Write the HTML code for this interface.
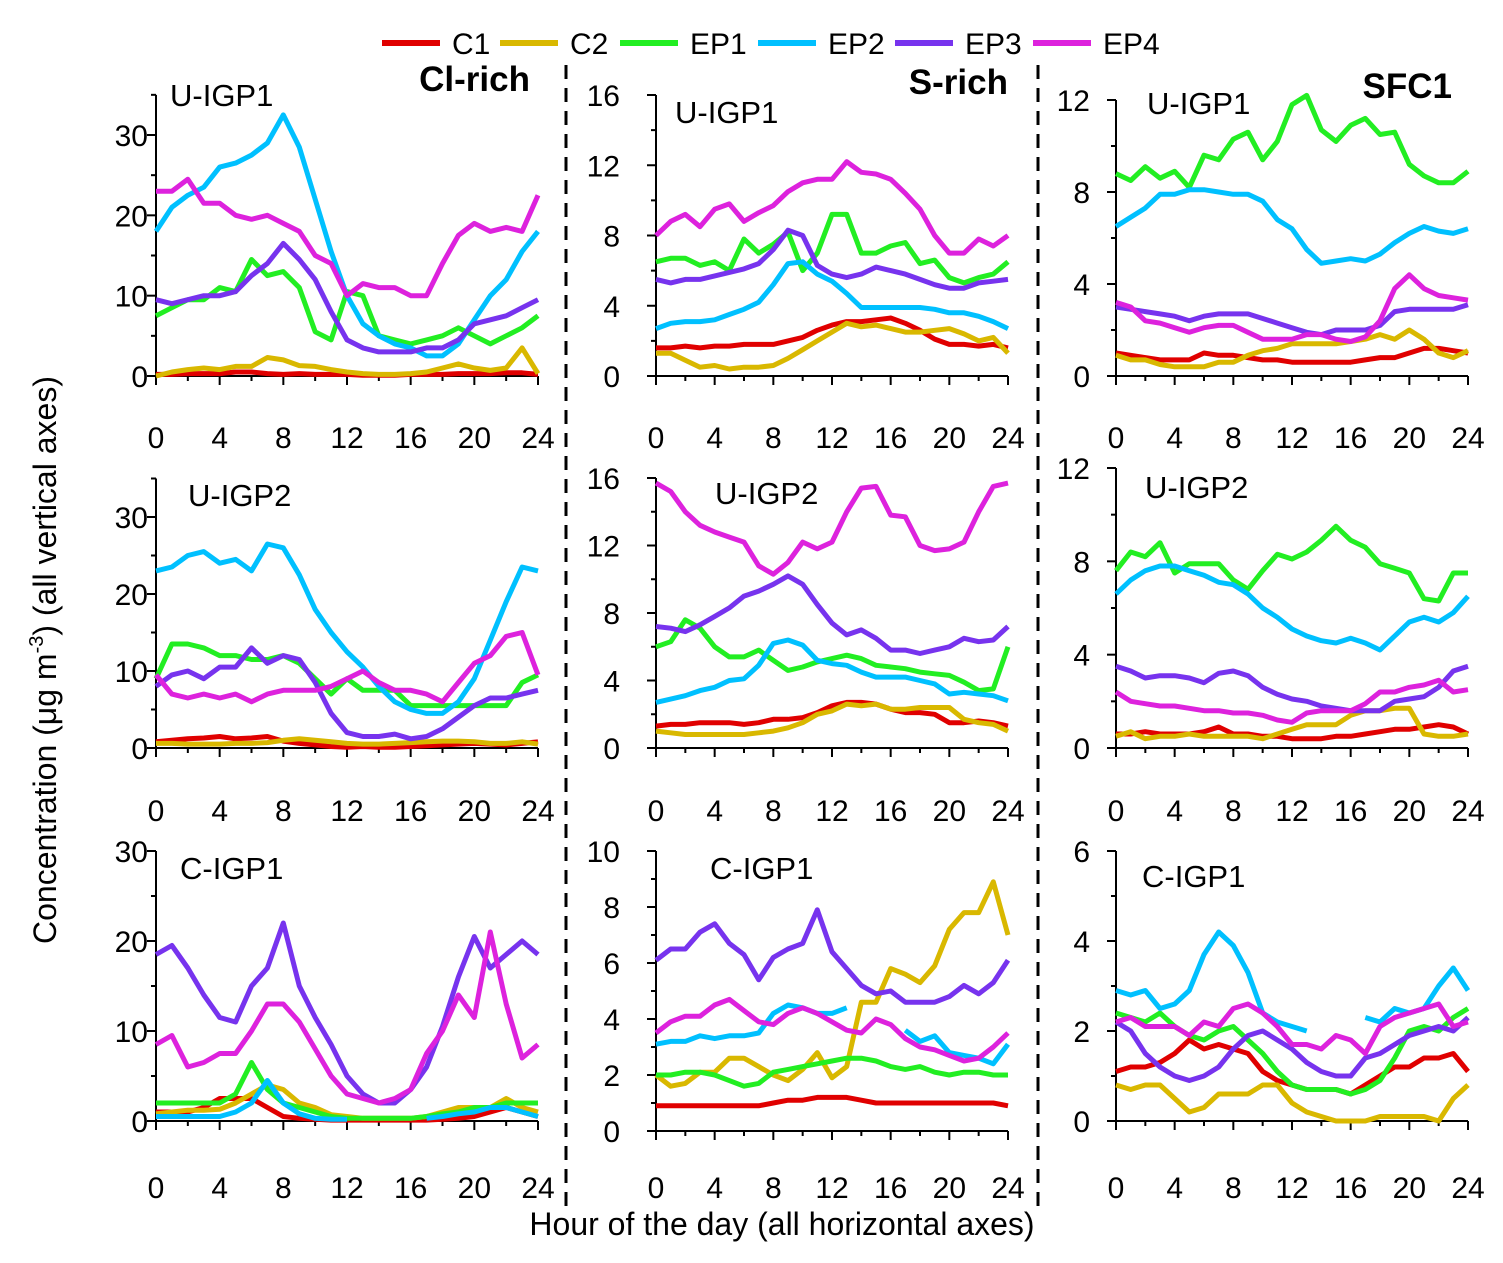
<!DOCTYPE html>
<html><head><meta charset="utf-8"><style>
body{margin:0;background:#fff;}
svg text{font-family:"Liberation Sans",sans-serif;fill:#000;}
</style></head><body>
<svg id="chart" width="1503" height="1258" viewBox="0 0 1503 1258" xmlns="http://www.w3.org/2000/svg">
<g id="legend"></g>
<g id="panels"></g>
<line x1="566" y1="65" x2="566" y2="1210" stroke="#000" stroke-width="3" stroke-dasharray="14,9"/>
<line x1="1038" y1="65" x2="1038" y2="1210" stroke="#000" stroke-width="3" stroke-dasharray="14,9"/>
<text transform="translate(56,660) rotate(-90)" text-anchor="middle" font-size="32">Concentration (μg m<tspan dy="-13" font-size="20">-3</tspan><tspan dy="13">) (all vertical axes)</tspan></text>
<text x="782" y="1235" text-anchor="middle" font-size="32">Hour of the day (all horizontal axes)</text>
<text x="530" y="91" text-anchor="end" font-size="35" font-weight="bold">Cl-rich</text>
<text x="1008" y="94" text-anchor="end" font-size="35" font-weight="bold">S-rich</text>
<text x="1452" y="98" text-anchor="end" font-size="35" font-weight="bold">SFC1</text>
</svg>
<script>
const seriesNames = ["C1","C2","EP1","EP2","EP3","EP4"];
const seriesColors = ["#e00000","#d9b800","#22ee22","#00c0ff","#7733ee","#dd22dd"];
const hours = [0,1,2,3,4,5,6,7,8,9,10,11,12,13,14,15,16,17,18,19,20,21,22,23,24];
const xTickLabels = [0,4,8,12,16,20,24];
const N = null;
const A_C1=[0.2,0.2,0.3,0.3,0.3,0.5,0.5,0.3,0.2,0.3,0.2,0.2,0.2,0.1,0.1,0.1,0.2,0.2,0.2,0.3,0.3,0.3,0.4,0.4,0.2];
const A_C2=[0,0.5,0.8,1,0.8,1.2,1.2,2.3,2,1.3,1.2,0.8,0.5,0.3,0.2,0.2,0.3,0.5,1,1.5,1,0.7,1,3.5,0.3];
const A_EP1=[7.5,8.5,9.5,9.5,11,10.5,14.5,12.5,13,11,5.5,4.5,10.5,10,5,4.5,4,4.5,5,6,5,4,5,6,7.5];
const A_EP2=[18,21,22.5,23.5,26,26.5,27.5,29,32.5,28.5,22,15.5,10,6.5,5,4,3.5,2.5,2.5,4,7,10,12,15.5,18];
const A_EP3=[9.5,9,9.5,10,10,10.5,12.5,14,16.5,14.5,12,8,4.5,3.5,3,3,3,3.5,3.5,4.5,6.5,7,7.5,8.5,9.5];
const A_EP4=[23,23,24.5,21.5,21.5,20,19.5,20,19,18,15,14,10,11.5,11,11,10,10,14,17.5,19,18,18.5,18,22.5];
const B_C1=[1.6,1.6,1.7,1.6,1.7,1.7,1.8,1.8,1.8,2,2.2,2.6,2.9,3.1,3.1,3.2,3.3,3,2.6,2.1,1.8,1.8,1.7,1.8,1.6];
const B_C2=[1.3,1.3,0.9,0.5,0.6,0.4,0.5,0.5,0.6,1,1.5,2,2.5,3,2.8,2.9,2.7,2.5,2.5,2.6,2.7,2.4,2,2.2,1.3];
const B_EP1=[6.5,6.7,6.7,6.3,6.5,6,7.8,7,7.5,8.2,6,7,9.2,9.2,7,7,7.4,7.6,6.4,6.6,5.6,5.3,5.6,5.8,6.5];
const B_EP2=[2.7,3,3.1,3.1,3.2,3.5,3.8,4.2,5.2,6.4,6.5,5.8,5.4,4.7,3.9,3.9,3.9,3.9,3.9,3.8,3.6,3.6,3.4,3.1,2.7];
const B_EP3=[5.5,5.3,5.5,5.5,5.7,5.9,6.1,6.4,7.2,8.3,8,6.3,5.8,5.6,5.8,6.2,6,5.8,5.5,5.2,5,5,5.3,5.4,5.5];
const B_EP4=[8,8.8,9.2,8.5,9.5,9.8,8.8,9.3,9.7,10.5,11,11.2,11.2,12.2,11.6,11.5,11.2,10.4,9.5,8,7,7,7.8,7.4,8];
const C_C1=[1,0.9,0.8,0.7,0.7,0.7,1,0.9,0.9,0.8,0.7,0.7,0.6,0.6,0.6,0.6,0.6,0.7,0.8,0.8,1,1.2,1.2,1.1,1];
const C_C2=[0.9,0.7,0.7,0.5,0.4,0.4,0.4,0.6,0.6,0.9,1.1,1.2,1.4,1.4,1.4,1.4,1.5,1.6,1.8,1.6,2,1.6,1,0.8,1.1];
const C_EP1=[8.8,8.5,9.1,8.6,8.9,8.2,9.6,9.4,10.3,10.6,9.4,10.2,11.8,12.2,10.7,10.2,10.9,11.2,10.5,10.6,9.2,8.7,8.4,8.4,8.9];
const C_EP2=[6.5,6.9,7.3,7.9,7.9,8.1,8.1,8,7.9,7.9,7.6,6.8,6.4,5.5,4.9,5,5.1,5,5.3,5.8,6.2,6.5,6.3,6.2,6.4];
const C_EP3=[3,2.9,2.8,2.7,2.6,2.4,2.6,2.7,2.7,2.7,2.5,2.3,2.1,1.9,1.8,2,2,2,2.2,2.8,2.9,2.9,2.9,2.9,3.1];
const C_EP4=[3.2,3,2.4,2.3,2.1,1.9,2.1,2.2,2.2,1.9,1.6,1.6,1.6,1.8,1.8,1.6,1.5,1.7,2.4,3.8,4.4,3.8,3.5,3.4,3.3];
const D_C1=[0.8,1,1.2,1.3,1.5,1.2,1.3,1.5,0.9,0.6,0.4,0.2,0.1,0.2,0.1,0.1,0.2,0.3,0.4,0.5,0.6,0.5,0.4,0.6,0.8];
const D_C2=[0.6,0.6,0.5,0.5,0.5,0.6,0.6,0.7,1,1.2,1,0.8,0.6,0.5,0.5,0.6,0.7,0.8,0.9,0.9,0.8,0.6,0.6,0.8,0.5];
const D_EP1=[9,13.5,13.5,13,12,12,11.5,11.5,12,11,9,7,9,7.5,7.5,7.5,5.5,5.5,5.5,5.5,5.5,5.5,5.5,8.5,9.5];
const D_EP2=[23,23.5,25,25.5,24,24.5,23,26.5,26,22.5,18,15,12.5,10.5,8,6,5,4.5,4.5,6,9,14,19,23.5,23];
const D_EP3=[8,9.5,10,9,10.5,10.5,13,11,12,11.5,8.5,4.5,2,1.5,1.5,1.8,1.2,1.5,2.5,4,5.5,6.5,6.5,7,7.5];
const D_EP4=[9.5,7,6.5,7,6.5,7,6,7,7.5,7.5,7.5,8,9,10,8.5,7.5,7.5,7,6,8.5,11,12,14.5,15,9.5];
const E_C1=[1.3,1.4,1.4,1.5,1.5,1.5,1.4,1.5,1.7,1.7,1.8,2.1,2.5,2.7,2.7,2.6,2.3,2.1,2.1,2,1.5,1.5,1.6,1.5,1.3];
const E_C2=[1,0.9,0.8,0.8,0.8,0.8,0.8,0.9,1,1.2,1.5,2,2.2,2.6,2.5,2.6,2.3,2.3,2.4,2.4,2.4,1.7,1.5,1.4,1];
const E_EP1=[6,6.3,7.6,7.1,6,5.4,5.4,5.8,5.2,4.6,4.8,5.1,5.3,5.5,5.3,4.9,4.8,4.7,4.5,4.4,4.3,3.9,3.4,3.5,6];
const E_EP2=[2.7,2.9,3.1,3.4,3.6,4,4.1,4.9,6.2,6.4,6.1,5.2,5,4.9,4.5,4.2,4.2,4.2,4,3.8,3.2,3.3,3.2,3.1,2.8];
const E_EP3=[7.2,7.1,6.9,7.3,7.8,8.3,9,9.3,9.7,10.2,9.7,8.5,7.4,6.7,7,6.5,5.8,5.8,5.6,5.8,6,6.5,6.3,6.4,7.2];
const E_EP4=[15.7,15.2,14,13.2,12.8,12.5,12.2,10.8,10.3,11,12.2,11.8,12.2,14,15.4,15.5,13.8,13.7,12,11.7,11.8,12.2,14,15.5,15.7];
const F_C1=[0.6,0.6,0.7,0.6,0.6,0.6,0.7,0.9,0.6,0.6,0.5,0.5,0.4,0.4,0.4,0.5,0.5,0.6,0.7,0.8,0.8,0.9,1,0.9,0.6];
const F_C2=[0.5,0.7,0.4,0.5,0.5,0.6,0.5,0.5,0.5,0.5,0.4,0.6,0.8,1,1,1,1.4,1.6,1.6,1.7,1.7,0.6,0.5,0.5,0.6];
const F_EP1=[7.6,8.4,8.2,8.8,7.5,7.9,7.9,7.9,7.2,6.8,7.6,8.3,8.1,8.4,8.9,9.5,8.9,8.6,7.9,7.7,7.5,6.4,6.3,7.5,7.5];
const F_EP2=[6.6,7.2,7.6,7.8,7.8,7.6,7.4,7.1,7,6.6,6,5.6,5.1,4.8,4.6,4.5,4.7,4.5,4.2,4.8,5.4,5.6,5.4,5.8,6.5];
const F_EP3=[3.5,3.3,3,3.1,3.1,3,2.8,3.2,3.3,3.1,2.6,2.3,2.1,2,1.8,1.7,1.6,1.6,1.6,2,2.1,2.2,2.6,3.3,3.5];
const F_EP4=[2.4,2,1.9,1.8,1.8,1.7,1.6,1.6,1.5,1.5,1.4,1.2,1.1,1.5,1.6,1.6,1.6,1.9,2.4,2.4,2.6,2.7,2.9,2.4,2.5];
const G_C1=[1,1,1,1.5,2.5,2.5,2.5,1.5,0.5,0.3,0.2,0.1,0.1,0.1,0.1,0.1,0.1,0.1,0.2,0.3,0.5,1,1.5,1,0.5];
const G_C2=[0.8,1,1.2,1.2,1.3,2,3,4,3.5,2,1.5,0.7,0.5,0.3,0.3,0.3,0.3,0.5,1,1.5,1.5,1.5,2.5,1.5,1];
const G_EP1=[2,2,2,2,2,3,6.5,3.5,2,1.5,1,0.5,0.3,0.3,0.3,0.3,0.3,0.5,0.8,1,1.5,1.5,2,2,2];
const G_EP2=[0.5,0.5,0.5,0.5,0.5,1,2,4.5,2,0.8,0.3,0.2,0.2,N,N,N,N,0.3,0.5,0.8,1,1.5,1.5,1,0.5];
const G_EP3=[18.5,19.5,17,14,11.5,11,15,17,22,15,11.5,8.5,5,3,2,2,3.5,6,10.5,16,20.5,17,18.5,20,18.5];
const G_EP4=[8.5,9.5,6,6.5,7.5,7.5,10,13,13,11,8,5,3,2.5,2,2.5,3.5,7.5,10,14,11.5,21,13,7,8.5];
const H_C1=[0.9,0.9,0.9,0.9,0.9,0.9,0.9,0.9,1,1.1,1.1,1.2,1.2,1.2,1.1,1,1,1,1,1,1,1,1,1,0.9];
const H_C2=[2,1.6,1.7,2.1,2.1,2.6,2.6,2.3,2,1.8,2.2,2.8,1.9,2.3,4.6,4.6,5.8,5.6,5.3,5.9,7.2,7.8,7.8,8.9,7];
const H_EP1=[2,2,2.1,2.1,2,1.8,1.6,1.7,2.1,2.2,2.3,2.4,2.5,2.6,2.6,2.5,2.3,2.2,2.3,2.1,2,2.1,2.1,2,2];
const H_EP2=[3.1,3.2,3.2,3.4,3.3,3.4,3.4,3.5,4.2,4.5,4.4,4.2,4.2,4.4,N,N,N,3.6,3.2,3.4,2.8,2.7,2.6,2.4,3.1];
const H_EP3=[6.1,6.5,6.5,7.1,7.4,6.7,6.3,5.4,6.2,6.5,6.7,7.9,6.4,5.8,5.2,4.9,5,4.6,4.6,4.6,4.8,5.2,4.9,5.3,6.1];
const H_EP4=[3.5,3.9,4.1,4.1,4.5,4.7,4.3,3.9,3.8,4.2,4.4,4.2,3.9,3.6,3.5,4,3.8,3.3,3,2.9,2.7,2.5,2.6,3,3.5];
const I_C1=[1.1,1.2,1.2,1.3,1.5,1.8,1.6,1.7,1.6,1.5,1.1,0.9,0.8,0.7,0.7,0.7,0.6,0.8,1,1.2,1.2,1.4,1.4,1.5,1.1];
const I_C2=[0.8,0.7,0.8,0.8,0.5,0.2,0.3,0.6,0.6,0.6,0.8,0.8,0.4,0.2,0.1,0,0,0,0.1,0.1,0.1,0.1,0,0.5,0.8];
const I_EP1=[2.4,2.3,2.2,2.4,2.1,1.9,1.8,2,2.1,1.8,1.5,1.1,0.8,0.7,0.7,0.7,0.6,0.7,0.9,1.4,2,2.1,2,2.3,2.5];
const I_EP2=[2.9,2.8,2.9,2.5,2.6,2.9,3.7,4.2,3.9,3.3,2.4,2.2,2.1,2,N,N,N,2.3,2.2,2.5,2.4,2.5,3,3.4,2.9];
const I_EP3=[2.2,2,1.5,1.2,1,0.9,1,1.2,1.6,1.9,2,1.8,1.6,1.3,1.1,1,1,1.4,1.5,1.7,1.9,2,2.1,2,2.3];
const I_EP4=[2.2,2.3,2.1,2.1,2.1,1.9,2.2,2.1,2.5,2.6,2.4,2.1,1.7,1.7,1.6,1.9,1.8,1.5,2.1,2.3,2.4,2.5,2.6,2.1,2.2];
const yTicksA=[0,10,20,30], yTicksB=[0,4,8,12,16], yTicksC=[0,4,8,12];
const yTicksG=[0,10,20,30], yTicksH=[0,2,4,6,8,10], yTicksI=[0,2,4,6];
const panelTitles=["U-IGP1","U-IGP1","U-IGP1","U-IGP2","U-IGP2","U-IGP2","C-IGP1","C-IGP1","C-IGP1"];

const NS="http://www.w3.org/2000/svg";
function mk(tag,attrs,parent){const e=document.createElementNS(NS,tag);for(const k in attrs)e.setAttribute(k,attrs[k]);parent.appendChild(e);return e;}

const cols=[{x0:156,x1:538,lx:148},{x0:656,x1:1008,lx:620},{x0:1116,x1:1468,lx:1090}];
const rows=[{y0:376,xl:437},{y0:748,xl:810},{y0:1121,xl:1187}];
const panels=[
 {c:0,r:0,ymax:35,yv:30,ypx:135,ticks:yTicksA,minor:5,data:[A_C1,A_C2,A_EP1,A_EP2,A_EP3,A_EP4],tx:170,ty:106},
 {c:1,r:0,ymax:16,yv:16,ypx:95,ticks:yTicksB,minor:2,data:[B_C1,B_C2,B_EP1,B_EP2,B_EP3,B_EP4],tx:675,ty:123},
 {c:2,r:0,ymax:12,yv:12,ypx:100,ticks:yTicksC,minor:2,data:[C_C1,C_C2,C_EP1,C_EP2,C_EP3,C_EP4],tx:1147,ty:114},
 {c:0,r:1,ymax:35,yv:30,ypx:517,ticks:yTicksA,minor:5,data:[D_C1,D_C2,D_EP1,D_EP2,D_EP3,D_EP4],tx:188,ty:506},
 {c:1,r:1,ymax:16,yv:16,ypx:478,ticks:yTicksB,minor:2,data:[E_C1,E_C2,E_EP1,E_EP2,E_EP3,E_EP4],tx:715,ty:504},
 {c:2,r:1,ymax:12,yv:12,ypx:468,ticks:yTicksC,minor:2,data:[F_C1,F_C2,F_EP1,F_EP2,F_EP3,F_EP4],tx:1145,ty:498},
 {c:0,r:2,ymax:30,yv:30,ypx:851,ticks:yTicksG,minor:5,data:[G_C1,G_C2,G_EP1,G_EP2,G_EP3,G_EP4],tx:180,ty:879},
 {c:1,r:2,ymax:10,yv:10,ypx:851,ticks:yTicksH,minor:1,data:[H_C1,H_C2,H_EP1,H_EP2,H_EP3,H_EP4],tx:710,ty:879,y0:1131},
 {c:2,r:2,ymax:6,yv:6,ypx:851,ticks:yTicksI,minor:1,data:[I_C1,I_C2,I_EP1,I_EP2,I_EP3,I_EP4],tx:1142,ty:887}
];
const root=document.getElementById('panels');
panels.forEach((p,i)=>{
  const col=cols[p.c], row=rows[p.r];
  const y0=p.y0||row.y0;
  const x=h=>col.x0+(col.x1-col.x0)*h/24;
  const y=v=>y0-(y0-p.ypx)*v/p.yv;
  const g=mk('g',{},root);
  
  
  const ya=mk('line',{x1:col.x0,y1:y0,x2:col.x0,y2:y(p.ymax),stroke:'#000','stroke-width':2},g);
  
  
  const xa=mk('line',{x1:col.x0,y1:y0,x2:col.x1,y2:y0,stroke:'#000','stroke-width':2},g);
  
  
  for(let v=0;v<=p.ymax+1e-9;v+=p.minor){
    const major=p.ticks.includes(v);
    mk('line',{x1:col.x0-(major?9:5),y1:y(v),x2:col.x0,y2:y(v),stroke:'#000','stroke-width':2},g);
  }
  p.ticks.forEach(v=>{
    const t=mk('text',{x:col.lx,y:y(v)+11,'text-anchor':'end','font-size':30},g);
    
    
    t.textContent=v;
  });
  for(let h=0;h<=24;h+=2){
    const major=h%4===0;
    mk('line',{x1:x(h),y1:y0,x2:x(h),y2:y0+(major?9:5),stroke:'#000','stroke-width':2},g);
  }
  xTickLabels.forEach(h=>{
    const t=mk('text',{x:x(h),y:row.xl+11,'text-anchor':'middle','font-size':30},g);
    
    
    t.textContent=h;
  });
  const tt=mk('text',{x:p.tx,y:p.ty,'font-size':31},g);
  
  
  tt.textContent=panelTitles[i];
  p.data.forEach((arr,s)=>{
    let d='',pen=false;
    arr.forEach((v,k)=>{
      if(v===null){pen=false;return;}
      d+=(pen?'L':'M')+x(hours[k]).toFixed(1)+','+y(v).toFixed(1);
      pen=true;
    });
    const path=mk('path',{d:d,fill:'none',stroke:seriesColors[s],'stroke-width':5,'stroke-linejoin':'round'},g);
    
    
  });
});
const lg=document.getElementById('legend');
const legX=[382,500,620,758,895,1033];
seriesNames.forEach((n,s)=>{
  const g=mk('g',{},lg);
  
  
  mk('line',{x1:legX[s],y1:43,x2:legX[s]+58,y2:43,stroke:seriesColors[s],'stroke-width':6},g);
  const t=mk('text',{x:legX[s]+70,y:54,'font-size':30},g);
  t.textContent=n;
});
</script>
</body></html>
